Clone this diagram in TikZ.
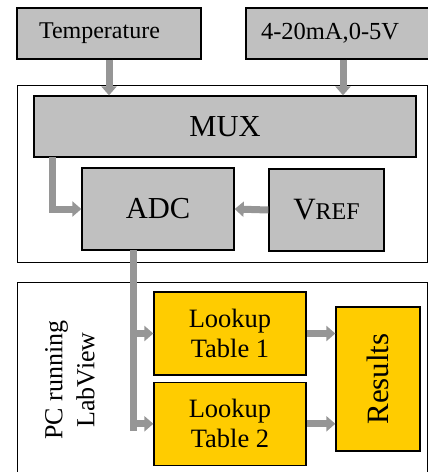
\documentclass[tikz,border=0pt]{standalone}
\usepackage{fontspec}
\setmainfont{Liberation Serif}
\usetikzlibrary{arrows.meta,positioning}
\definecolor{boxgray}{RGB}{192,192,192}
\definecolor{pipegray}{RGB}{150,150,150}
\definecolor{lvyellow}{RGB}{255,204,0}

\begin{document}
\begin{tikzpicture}[
  x=1pt, y=1pt,
  block/.style={draw=black, line width=1.3pt, fill=boxgray, align=center, inner sep=0pt},
  lutable/.style={draw=black, line width=1.3pt, fill=lvyellow, align=center, inner sep=0pt,
    minimum width=152pt, minimum height=83pt, font=\fontsize{26.5}{30}\selectfont},
  outline/.style={draw=black, line width=0.9pt, inner sep=0pt},
  pipe/.style={-{Triangle[length=9pt,width=15pt]}, line width=7pt, draw=pipegray}
]
\useasboundingbox (0,0) rectangle (428,-472);
\clip (0,0) rectangle (428,-472);
% inputs
\node[block, minimum height=51pt, text width=140pt, inner xsep=22pt, align=left,
  font=\fontsize{24}{28}\selectfont] (temp) at (109,-33.5) {Temperature};
\node[block, minimum height=51pt, text width=164pt, inner xsep=15pt, align=left,
  font=\fontsize{24.5}{28}\selectfont] (volt) at (343,-33.5) {4-20mA,0-5V};
% acquisition board
\node[outline, minimum width=410pt, minimum height=177pt] (daq) at (222,-173.5) {};
\node[block, minimum width=382pt, minimum height=61pt, font=\fontsize{30.5}{34}\selectfont] (mux) at (225,-126.5) {MUX};
\node[block, minimum width=152pt, minimum height=82pt, font=\fontsize{30.5}{34}\selectfont] (adc) at (158,-209) {ADC};
\node[block, minimum width=115pt, minimum height=82pt] (vref) at (326.5,-210)
  {\fontsize{31}{34}\selectfont V\fontsize{24}{26}\selectfont REF};
% computer side
\node[outline, minimum width=410pt, minimum height=208pt] (pc) at (222,-386) {};
\node[rotate=90, align=center, font=\fontsize{26}{32}\selectfont] (pclabel) at (70,-380) {PC running\\LabView};
\node[lutable] (lt1) at (230,-333.5) {Lookup\\Table 1};
\node[lutable, below=6pt of lt1] (lt2) {Lookup\\Table 2};
\node[draw=black, line width=1.3pt, fill=lvyellow, inner sep=0pt, minimum width=144pt, minimum height=84pt,
  rotate=90, font=\fontsize{31}{34}\selectfont] (res) at (378,-379) {Results};
\coordinate (mtap) at (52,-157);
\coordinate (atap) at (133,-250);
% connections
\draw[pipe] (temp.south) -- (temp.south |- mux.north);
\draw[pipe] (volt.south) -- (volt.south |- mux.north);
\draw[pipe] (mtap) |- (adc.west);
\draw[pipe] (vref.west) -- (adc.east);
\draw[pipe, -] (atap) -- ++(0,-181);
\draw[pipe] (atap |- lt1.west) -- (lt1.west);
\draw[pipe] (atap |- lt2.west) -- (lt2.west);
\draw[pipe] (lt1.east) -- (lt1.east -| res.north);
\draw[pipe] (lt2.east) -- (lt2.east -| res.north);
\end{tikzpicture}
\end{document}
